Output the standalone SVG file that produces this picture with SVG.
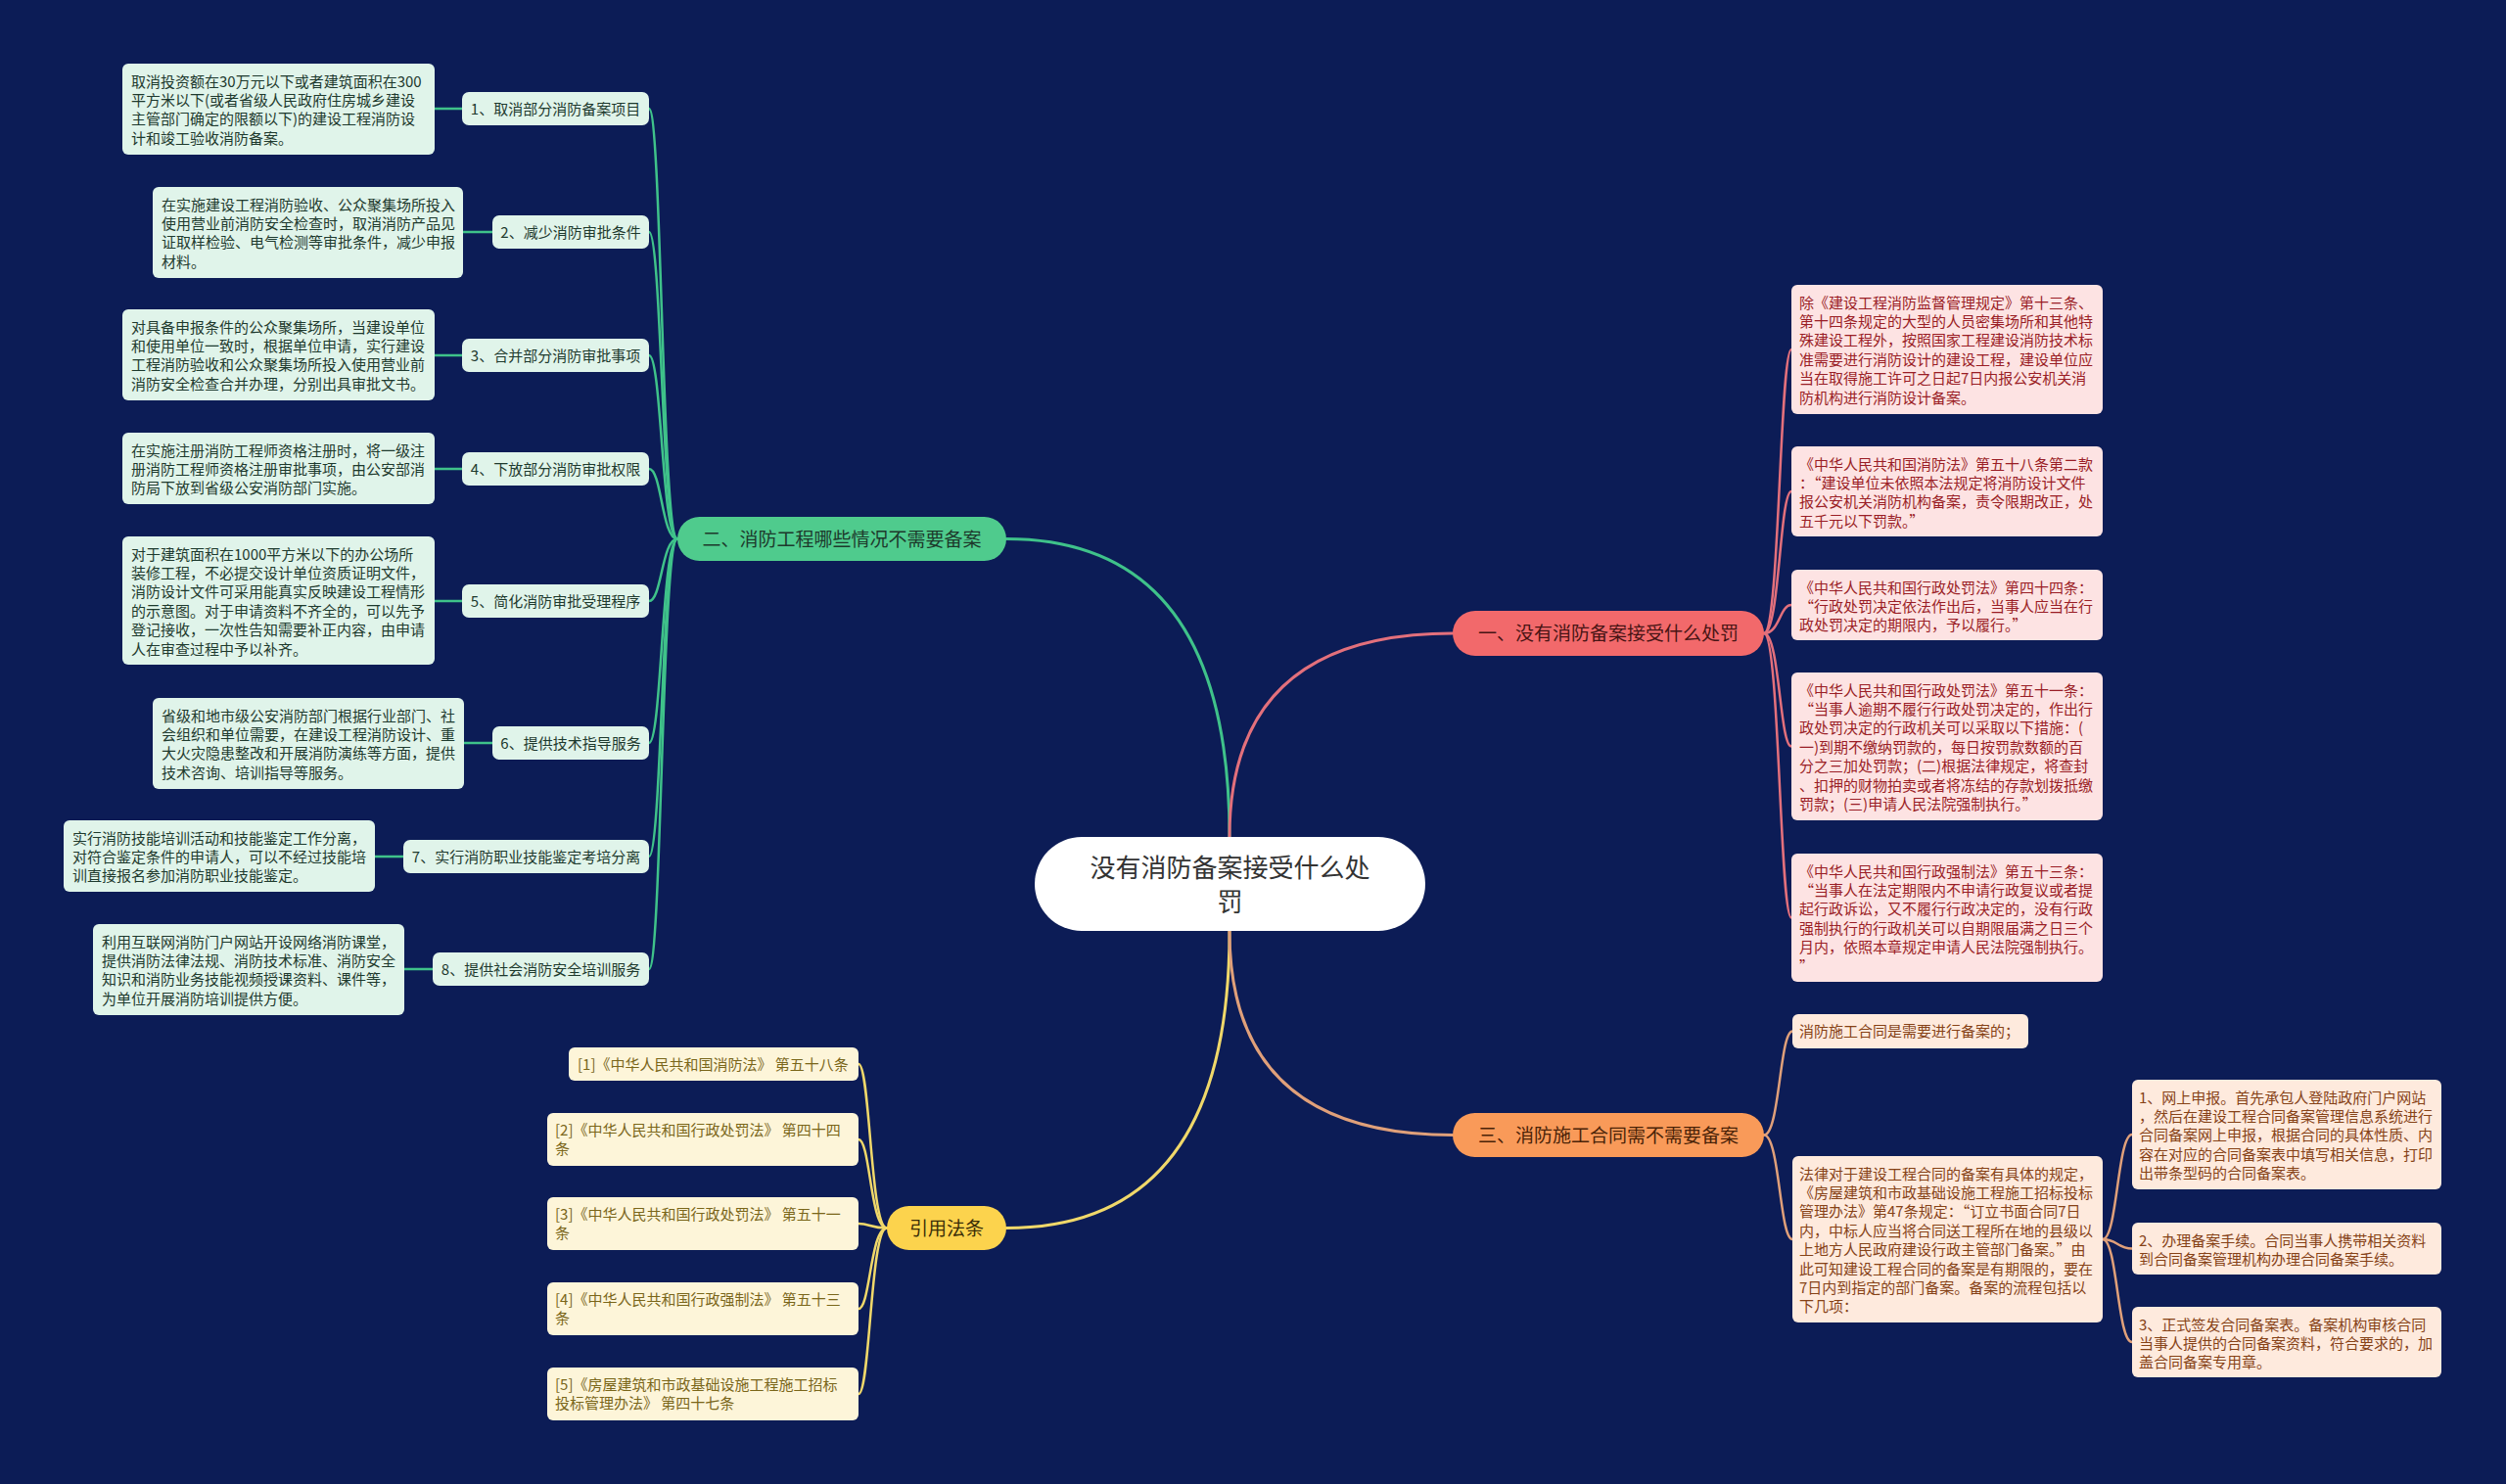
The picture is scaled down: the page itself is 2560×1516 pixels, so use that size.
<svg xmlns="http://www.w3.org/2000/svg" width="2560" height="1516" viewBox="0 0 2560 1516">
<style>
text{font-family:"Noto Sans CJK SC","Noto Sans",sans-serif;}
.t15{font-size:15px;}
.gl rect{fill:#e0f4ea;}
.gl text{fill:#1e3a2e;}
.pl rect{fill:#fde3e3;}
.pl text{fill:#9a1e26;}
.ol rect{fill:#feeadd;}
.ol text{fill:#864217;}
.yl rect{fill:#fdf5d9;}
.yl text{fill:#7a661a;}
.mt{font-size:19px;text-anchor:middle;}
.c{fill:none;stroke-linecap:round;}
.cg{stroke:#3fc28a;}
.cr{stroke:#e3707c;}
.co{stroke:#e0a07a;}
.cy{stroke:#f0d86a;}
</style>
<rect x="0" y="0" width="2560" height="1516" fill="#0c1c56"/>

<g id="connectors">
  <path class="c cg" stroke-width="3" d="M1256 855 Q1256 550.5 1028 550.5"/>
  <path class="c cr" stroke-width="3" d="M1256 855 Q1256 647 1484 647"/>
  <path class="c cy" stroke-width="3" d="M1256 951 Q1256 1254.5 1028 1254.5"/>
  <path class="c co" stroke-width="3" d="M1256 951 Q1256 1159.5 1484 1159.5"/>

  <path class="c cg" stroke-width="2.5" d="M692 550.5 C676 550.5 676 111 663 111"/>
  <path class="c cg" stroke-width="2.5" d="M692 550.5 C676 550.5 676 237 663 237"/>
  <path class="c cg" stroke-width="2.5" d="M692 550.5 C676 550.5 676 363 663 363"/>
  <path class="c cg" stroke-width="2.5" d="M692 550.5 C676 550.5 676 479 663 479"/>
  <path class="c cg" stroke-width="2.5" d="M692 550.5 C676 550.5 676 614 663 614"/>
  <path class="c cg" stroke-width="2.5" d="M692 550.5 C676 550.5 676 759 663 759"/>
  <path class="c cg" stroke-width="2.5" d="M692 550.5 C676 550.5 676 875 663 875"/>
  <path class="c cg" stroke-width="2.5" d="M692 550.5 C676 550.5 676 990 663 990"/>

  <path class="c cg" stroke-width="2.5" d="M444 111 L472 111"/>
  <path class="c cg" stroke-width="2.5" d="M473 237 L503 237"/>
  <path class="c cg" stroke-width="2.5" d="M444 363 L472 363"/>
  <path class="c cg" stroke-width="2.5" d="M444 479 L472 479"/>
  <path class="c cg" stroke-width="2.5" d="M444 614 L472 614"/>
  <path class="c cg" stroke-width="2.5" d="M474 759 L503 759"/>
  <path class="c cg" stroke-width="2.5" d="M383 875 L412 875"/>
  <path class="c cg" stroke-width="2.5" d="M413 990 L442 990"/>

  <path class="c cr" stroke-width="2.5" d="M1802 647 C1818 647 1818 357 1830 357"/>
  <path class="c cr" stroke-width="2.5" d="M1802 647 C1818 647 1818 502 1830 502"/>
  <path class="c cr" stroke-width="2.5" d="M1802 647 C1818 647 1818 618 1830 618"/>
  <path class="c cr" stroke-width="2.5" d="M1802 647 C1818 647 1818 762.5 1830 762.5"/>
  <path class="c cr" stroke-width="2.5" d="M1802 647 C1818 647 1818 937.5 1830 937.5"/>

  <path class="c co" stroke-width="2.5" d="M1802 1159.5 C1818 1159.5 1818 1053.5 1831 1053.5"/>
  <path class="c co" stroke-width="2.5" d="M1802 1159.5 C1818 1159.5 1818 1266 1831 1266"/>
  <path class="c co" stroke-width="2.5" d="M2148 1266 C2163 1266 2163 1159 2178 1159"/>
  <path class="c co" stroke-width="2.5" d="M2148 1266 C2163 1266 2163 1275.5 2178 1275.5"/>
  <path class="c co" stroke-width="2.5" d="M2148 1266 C2163 1266 2163 1371 2178 1371"/>

  <path class="c cy" stroke-width="2.5" d="M906 1254.5 C889 1254.5 889 1087 877 1087"/>
  <path class="c cy" stroke-width="2.5" d="M906 1254.5 C889 1254.5 889 1164 877 1164"/>
  <path class="c cy" stroke-width="2.5" d="M906 1254.5 C889 1254.5 889 1250 877 1250"/>
  <path class="c cy" stroke-width="2.5" d="M906 1254.5 C889 1254.5 889 1337 877 1337"/>
  <path class="c cy" stroke-width="2.5" d="M906 1254.5 C889 1254.5 889 1424 877 1424"/>
</g>

<g id="center">
  <rect x="1057" y="855" width="399" height="96" rx="48" fill="#ffffff"/>
  <text x="1256.5" y="895.7" font-size="26" text-anchor="middle" fill="#333333">没有消防备案接受什么处</text>
  <text x="1256.5" y="930.7" font-size="26" text-anchor="middle" fill="#333333">罚</text>
</g>

<g id="main2">
  <rect x="692" y="528" width="336" height="45" rx="22.5" fill="#4fcb8d"/>
  <text class="mt" x="860" y="557.5" fill="#1d3a2c">二、消防工程哪些情况不需要备案</text>
</g>
<g id="main1">
  <rect x="1484" y="624" width="318" height="46" rx="23" fill="#f2696b"/>
  <text class="mt" x="1643" y="654" fill="#471414">一、没有消防备案接受什么处罚</text>
</g>
<g id="main3">
  <rect x="1484" y="1137" width="318" height="45" rx="22.5" fill="#f99a59"/>
  <text class="mt" x="1643" y="1166.5" fill="#4a2308">三、消防施工合同需不需要备案</text>
</g>
<g id="main4">
  <rect x="906" y="1232" width="122" height="45" rx="22.5" fill="#fcd34d"/>
  <text class="mt" x="967" y="1261.5" fill="#3a2e08">引用法条</text>
</g>

<g id="s1" class="gl"><rect x="472" y="94" width="191" height="34" rx="7"/><text class="t15" x="567.5" y="116.5" text-anchor="middle">1、取消部分消防备案项目</text></g>
<g id="s2" class="gl"><rect x="503" y="220" width="160" height="34" rx="7"/><text class="t15" x="583" y="242.5" text-anchor="middle">2、减少消防审批条件</text></g>
<g id="s3" class="gl"><rect x="472" y="346" width="191" height="34" rx="7"/><text class="t15" x="567.5" y="368.5" text-anchor="middle">3、合并部分消防审批事项</text></g>
<g id="s4" class="gl"><rect x="472" y="462" width="191" height="34" rx="7"/><text class="t15" x="567.5" y="484.5" text-anchor="middle">4、下放部分消防审批权限</text></g>
<g id="s5" class="gl"><rect x="472" y="597" width="191" height="34" rx="7"/><text class="t15" x="567.5" y="619.5" text-anchor="middle">5、简化消防审批受理程序</text></g>
<g id="s6" class="gl"><rect x="503" y="742" width="160" height="34" rx="7"/><text class="t15" x="583" y="764.5" text-anchor="middle">6、提供技术指导服务</text></g>
<g id="s7" class="gl"><rect x="412" y="858" width="251" height="34" rx="7"/><text class="t15" x="537.5" y="880.5" text-anchor="middle">7、实行消防职业技能鉴定考培分离</text></g>
<g id="s8" class="gl"><rect x="442" y="973" width="221" height="34" rx="7"/><text class="t15" x="552.5" y="995.5" text-anchor="middle">8、提供社会消防安全培训服务</text></g>

<g id="l1" class="gl"><rect x="125" y="65" width="319" height="93" rx="6"/>
<text class="t15"><tspan x="134" y="88.5">取消投资额在30万元以下或者建筑面积在300</tspan><tspan x="134" y="107.9">平方米以下(或者省级人民政府住房城乡建设</tspan><tspan x="134" y="127.3">主管部门确定的限额以下)的建设工程消防设</tspan><tspan x="134" y="146.7">计和竣工验收消防备案。</tspan></text></g>
<g id="l2" class="gl"><rect x="156" y="191" width="317" height="93" rx="6"/>
<text class="t15"><tspan x="165" y="214.5">在实施建设工程消防验收、公众聚集场所投入</tspan><tspan x="165" y="233.9">使用营业前消防安全检查时，取消消防产品见</tspan><tspan x="165" y="253.3">证取样检验、电气检测等审批条件，减少申报</tspan><tspan x="165" y="272.7">材料。</tspan></text></g>
<g id="l3" class="gl"><rect x="125" y="316" width="319" height="93" rx="6"/>
<text class="t15"><tspan x="134" y="339.5">对具备申报条件的公众聚集场所，当建设单位</tspan><tspan x="134" y="358.9">和使用单位一致时，根据单位申请，实行建设</tspan><tspan x="134" y="378.3">工程消防验收和公众聚集场所投入使用营业前</tspan><tspan x="134" y="397.7">消防安全检查合并办理，分别出具审批文书。</tspan></text></g>
<g id="l4" class="gl"><rect x="125" y="442" width="319" height="73" rx="6"/>
<text class="t15"><tspan x="134" y="465.5">在实施注册消防工程师资格注册时，将一级注</tspan><tspan x="134" y="484.9">册消防工程师资格注册审批事项，由公安部消</tspan><tspan x="134" y="504.3">防局下放到省级公安消防部门实施。</tspan></text></g>
<g id="l5" class="gl"><rect x="125" y="548" width="319" height="131" rx="6"/>
<text class="t15"><tspan x="134" y="571.5">对于建筑面积在1000平方米以下的办公场所</tspan><tspan x="134" y="590.9">装修工程，不必提交设计单位资质证明文件，</tspan><tspan x="134" y="610.3">消防设计文件可采用能真实反映建设工程情形</tspan><tspan x="134" y="629.7">的示意图。对于申请资料不齐全的，可以先予</tspan><tspan x="134" y="649.1">登记接收，一次性告知需要补正内容，由申请</tspan><tspan x="134" y="668.5">人在审查过程中予以补齐。</tspan></text></g>
<g id="l6" class="gl"><rect x="156" y="713" width="318" height="93" rx="6"/>
<text class="t15"><tspan x="165" y="736.5">省级和地市级公安消防部门根据行业部门、社</tspan><tspan x="165" y="755.9">会组织和单位需要，在建设工程消防设计、重</tspan><tspan x="165" y="775.3">大火灾隐患整改和开展消防演练等方面，提供</tspan><tspan x="165" y="794.7">技术咨询、培训指导等服务。</tspan></text></g>
<g id="l7" class="gl"><rect x="65" y="838" width="318" height="73" rx="6"/>
<text class="t15"><tspan x="74" y="861.5">实行消防技能培训活动和技能鉴定工作分离，</tspan><tspan x="74" y="880.9">对符合鉴定条件的申请人，可以不经过技能培</tspan><tspan x="74" y="900.3">训直接报名参加消防职业技能鉴定。</tspan></text></g>
<g id="l8" class="gl"><rect x="95" y="944" width="318" height="93" rx="6"/>
<text class="t15"><tspan x="104" y="967.5">利用互联网消防门户网站开设网络消防课堂，</tspan><tspan x="104" y="986.9">提供消防法律法规、消防技术标准、消防安全</tspan><tspan x="104" y="1006.3">知识和消防业务技能视频授课资料、课件等，</tspan><tspan x="104" y="1025.7">为单位开展消防培训提供方便。</tspan></text></g>

<g id="p1" class="pl"><rect x="1830" y="291" width="318" height="132" rx="6"/>
<text class="t15"><tspan x="1838" y="314.5">除《建设工程消防监督管理规定》第十三条、</tspan><tspan x="1838" y="333.9">第十四条规定的大型的人员密集场所和其他特</tspan><tspan x="1838" y="353.3">殊建设工程外，按照国家工程建设消防技术标</tspan><tspan x="1838" y="372.7">准需要进行消防设计的建设工程，建设单位应</tspan><tspan x="1838" y="392.1">当在取得施工许可之日起7日内报公安机关消</tspan><tspan x="1838" y="411.5">防机构进行消防设计备案。</tspan></text></g>
<g id="p2" class="pl"><rect x="1830" y="456" width="318" height="92" rx="6"/>
<text class="t15"><tspan x="1838" y="479.5">《中华人民共和国消防法》第五十八条第二款</tspan><tspan x="1838" y="498.9">：“建设单位未依照本法规定将消防设计文件</tspan><tspan x="1838" y="518.3">报公安机关消防机构备案，责令限期改正，处</tspan><tspan x="1838" y="537.7">五千元以下罚款。”</tspan></text></g>
<g id="p3" class="pl"><rect x="1830" y="582" width="318" height="72" rx="6"/>
<text class="t15"><tspan x="1838" y="605.5">《中华人民共和国行政处罚法》第四十四条：</tspan><tspan x="1838" y="624.9">“行政处罚决定依法作出后，当事人应当在行</tspan><tspan x="1838" y="644.3">政处罚决定的期限内，予以履行。”</tspan></text></g>
<g id="p4" class="pl"><rect x="1830" y="687" width="318" height="151" rx="6"/>
<text class="t15"><tspan x="1838" y="710.5">《中华人民共和国行政处罚法》第五十一条：</tspan><tspan x="1838" y="729.9">“当事人逾期不履行行政处罚决定的，作出行</tspan><tspan x="1838" y="749.3">政处罚决定的行政机关可以采取以下措施：(</tspan><tspan x="1838" y="768.7">一)到期不缴纳罚款的，每日按罚款数额的百</tspan><tspan x="1838" y="788.1">分之三加处罚款；(二)根据法律规定，将查封</tspan><tspan x="1838" y="807.5">、扣押的财物拍卖或者将冻结的存款划拨抵缴</tspan><tspan x="1838" y="826.9">罚款；(三)申请人民法院强制执行。”</tspan></text></g>
<g id="p5" class="pl"><rect x="1830" y="872" width="318" height="131" rx="6"/>
<text class="t15"><tspan x="1838" y="895.5">《中华人民共和国行政强制法》第五十三条：</tspan><tspan x="1838" y="914.9">“当事人在法定期限内不申请行政复议或者提</tspan><tspan x="1838" y="934.3">起行政诉讼，又不履行行政决定的，没有行政</tspan><tspan x="1838" y="953.7">强制执行的行政机关可以自期限届满之日三个</tspan><tspan x="1838" y="973.1">月内，依照本章规定申请人民法院强制执行。</tspan><tspan x="1838" y="992.5">”</tspan></text></g>

<g id="oa" class="ol"><rect x="1831" y="1036" width="241" height="35" rx="6"/>
<text class="t15" x="1838" y="1059">消防施工合同是需要进行备案的；</text></g>
<g id="ob" class="ol"><rect x="1831" y="1181" width="317" height="170" rx="6"/>
<text class="t15"><tspan x="1838" y="1204.5">法律对于建设工程合同的备案有具体的规定，</tspan><tspan x="1838" y="1223.9">《房屋建筑和市政基础设施工程施工招标投标</tspan><tspan x="1838" y="1243.3">管理办法》第47条规定：“订立书面合同7日</tspan><tspan x="1838" y="1262.7">内，中标人应当将合同送工程所在地的县级以</tspan><tspan x="1838" y="1282.1">上地方人民政府建设行政主管部门备案。”由</tspan><tspan x="1838" y="1301.5">此可知建设工程合同的备案是有期限的，要在</tspan><tspan x="1838" y="1320.9">7日内到指定的部门备案。备案的流程包括以</tspan><tspan x="1838" y="1340.3">下几项：</tspan></text></g>
<g id="oc1" class="ol"><rect x="2178" y="1103" width="316" height="112" rx="6"/>
<text class="t15"><tspan x="2185" y="1126.5">1、网上申报。首先承包人登陆政府门户网站</tspan><tspan x="2185" y="1145.9">，然后在建设工程合同备案管理信息系统进行</tspan><tspan x="2185" y="1165.3">合同备案网上申报，根据合同的具体性质、内</tspan><tspan x="2185" y="1184.7">容在对应的合同备案表中填写相关信息，打印</tspan><tspan x="2185" y="1204.1">出带条型码的合同备案表。</tspan></text></g>
<g id="oc2" class="ol"><rect x="2178" y="1249" width="316" height="53" rx="6"/>
<text class="t15"><tspan x="2185" y="1272.5">2、办理备案手续。合同当事人携带相关资料</tspan><tspan x="2185" y="1291.9">到合同备案管理机构办理合同备案手续。</tspan></text></g>
<g id="oc3" class="ol"><rect x="2178" y="1335" width="316" height="72" rx="6"/>
<text class="t15"><tspan x="2185" y="1358.5">3、正式签发合同备案表。备案机构审核合同</tspan><tspan x="2185" y="1377.9">当事人提供的合同备案资料，符合要求的，加</tspan><tspan x="2185" y="1397.3">盖合同备案专用章。</tspan></text></g>

<g id="r1" class="yl"><rect x="581" y="1070" width="296" height="34" rx="6"/>
<text class="t15" x="590" y="1093">[1]《中华人民共和国消防法》 第五十八条</text></g>
<g id="r2" class="yl"><rect x="559" y="1137" width="318" height="54" rx="6"/>
<text class="t15"><tspan x="567" y="1160">[2]《中华人民共和国行政处罚法》 第四十四</tspan><tspan x="567" y="1178.5">条</tspan></text></g>
<g id="r3" class="yl"><rect x="559" y="1223" width="318" height="54" rx="6"/>
<text class="t15"><tspan x="567" y="1246">[3]《中华人民共和国行政处罚法》 第五十一</tspan><tspan x="567" y="1264.5">条</tspan></text></g>
<g id="r4" class="yl"><rect x="559" y="1310" width="318" height="54" rx="6"/>
<text class="t15"><tspan x="567" y="1333">[4]《中华人民共和国行政强制法》 第五十三</tspan><tspan x="567" y="1351.5">条</tspan></text></g>
<g id="r5" class="yl"><rect x="559" y="1397" width="318" height="54" rx="6"/>
<text class="t15"><tspan x="567" y="1420">[5]《房屋建筑和市政基础设施工程施工招标</tspan><tspan x="567" y="1438.5">投标管理办法》 第四十七条</tspan></text></g>
</svg>
